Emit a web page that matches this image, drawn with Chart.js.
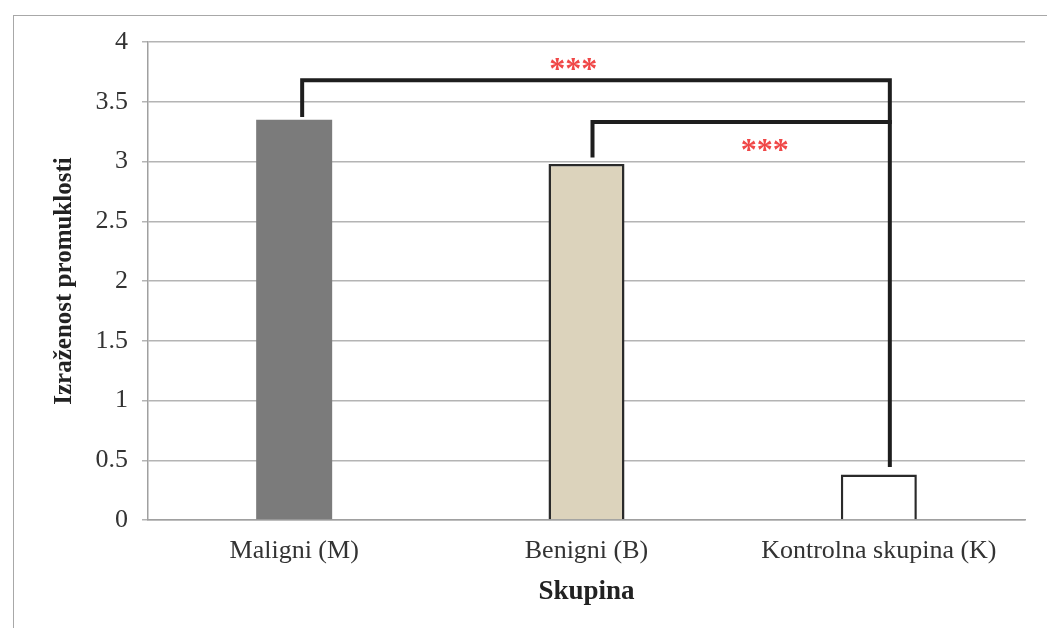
<!DOCTYPE html>
<html>
<head>
<meta charset="utf-8">
<script src="https://cdn.jsdelivr.net/npm/chart.js@4"></script>
<style>
  html, body { margin: 0; padding: 0; background: #fff; }
  #wrap { position: relative; width: 1047px; height: 628px; }
  #frame { position: absolute; left: 13px; top: 15px; right: 0; bottom: 0;
           border-top: 1.5px solid #a8a8a8; border-left: 1.5px solid #a8a8a8; }
  canvas { position: absolute; left: 0; top: 0; }
</style>
</head>
<body>
<div id="wrap">
  <div id="frame"></div>
  <canvas id="c" width="1047" height="628"></canvas>
</div>
<script>
/* data */
const categories = ['Maligni (M)', 'Benigni (B)', 'Kontrolna skupina (K)'];
const values     = [3.35, 2.98, 0.38];
const yTicks     = [0, 0.5, 1, 1.5, 2, 2.5, 3, 3.5, 4];

// significance brackets: category indices, heights in data units
const bracketFrom   = [0, 1];
const bracketTo     = [2, 2];
const bracketTop    = [3.68, 3.33];
const bracketStartY = [3.39, 3.05];
const bracketEndY   = [0.46, 3.33];
const starLabel     = ['***', '***'];
const starX         = [0.955, 1.61];
const starY         = [3.82, 3.14];

const SERIF = '"Liberation Serif", "DejaVu Serif", serif';

/* ── bracket plugin ───────────────────────────────────────────── */
const bracketPlugin = {
  id: 'brackets',
  afterDatasetsDraw(chart, args, opts) {
    const { ctx, scales: { x, y } } = chart;
    const off = opts.offsets;
    ctx.save();
    ctx.strokeStyle = '#1e1e1e';
    ctx.lineWidth = 4;
    ctx.lineCap = 'square';
    bracketFrom.forEach((f, i) => {
      const t = bracketTo[i];
      const x1 = x.getPixelForValue(f) + off[f];
      const x2 = x.getPixelForValue(t) + off[t];
      const yt = y.getPixelForValue(bracketTop[i]);
      ctx.beginPath();
      ctx.moveTo(x1, y.getPixelForValue(bracketStartY[i]));
      ctx.lineTo(x1, yt);
      ctx.lineTo(x2, yt);
      ctx.lineTo(x2, y.getPixelForValue(bracketEndY[i]));
      ctx.stroke();
    });
    ctx.fillStyle = '#f04848';
    ctx.font = 'bold 32px ' + SERIF;
    ctx.textAlign = 'center';
    ctx.textBaseline = 'middle';
    starLabel.forEach((s, i) => {
      const px = x.left + (starX[i] + 0.5) / categories.length * (x.right - x.left);
      ctx.fillText(s, px, y.getPixelForValue(starY[i]) + 7);
    });
    ctx.restore();
  }
};

new Chart(document.getElementById('c'), {
  type: 'bar',
  data: {
    labels: categories,
    datasets: [{
      data: values,
      backgroundColor: ['#7b7b7b', '#dcd3bc', '#ffffff'],
      borderColor: ['#7b7b7b', '#2a2a2a', '#2a2a2a'],
      borderWidth: [0, 2.5, 2.5],
      barPercentage: 0.26,
      categoryPercentage: 1,
    }],
  },
  options: {
    responsive: false,
    animation: false,
    devicePixelRatio: 1,
    layout: { padding: { left: 50, right: 22, top: 42, bottom: 16 } },
    plugins: {
      legend: { display: false },
      tooltip: { enabled: false },
      brackets: { offsets: [8, 6, 11] },
    },
    scales: {
      x: {
        grid: { display: false },
        border: { color: '#a0a0a0', width: 1.5 },
        ticks: { color: '#333', font: { family: SERIF, size: 26 }, padding: 8 },
        title: { display: true, text: 'Skupina', color: '#222',
                 font: { family: SERIF, size: 27, weight: 'bold' }, padding: { top: 0 } },
        afterFit: s => { s.height = 92; },
      },
      y: {
        min: 0, max: 4,
        afterBuildTicks: s => { s.ticks = yTicks.map(v => ({ value: v })); },
        grid: { color: '#b4b4b4', lineWidth: 1.5, tickLength: 6 },
        border: { color: '#a0a0a0', width: 1.5 },
        ticks: { color: '#333', font: { family: SERIF, size: 26 }, padding: 14,
                 callback: v => String(v) },
        title: { display: true, text: 'Izraženost promuklosti', color: '#222',
                 font: { family: SERIF, size: 25, weight: 'bold' }, padding: 0 },
        afterFit: s => { s.width = 98; },
      },
    },
  },
  plugins: [bracketPlugin],
});
</script>
</body>
</html>
